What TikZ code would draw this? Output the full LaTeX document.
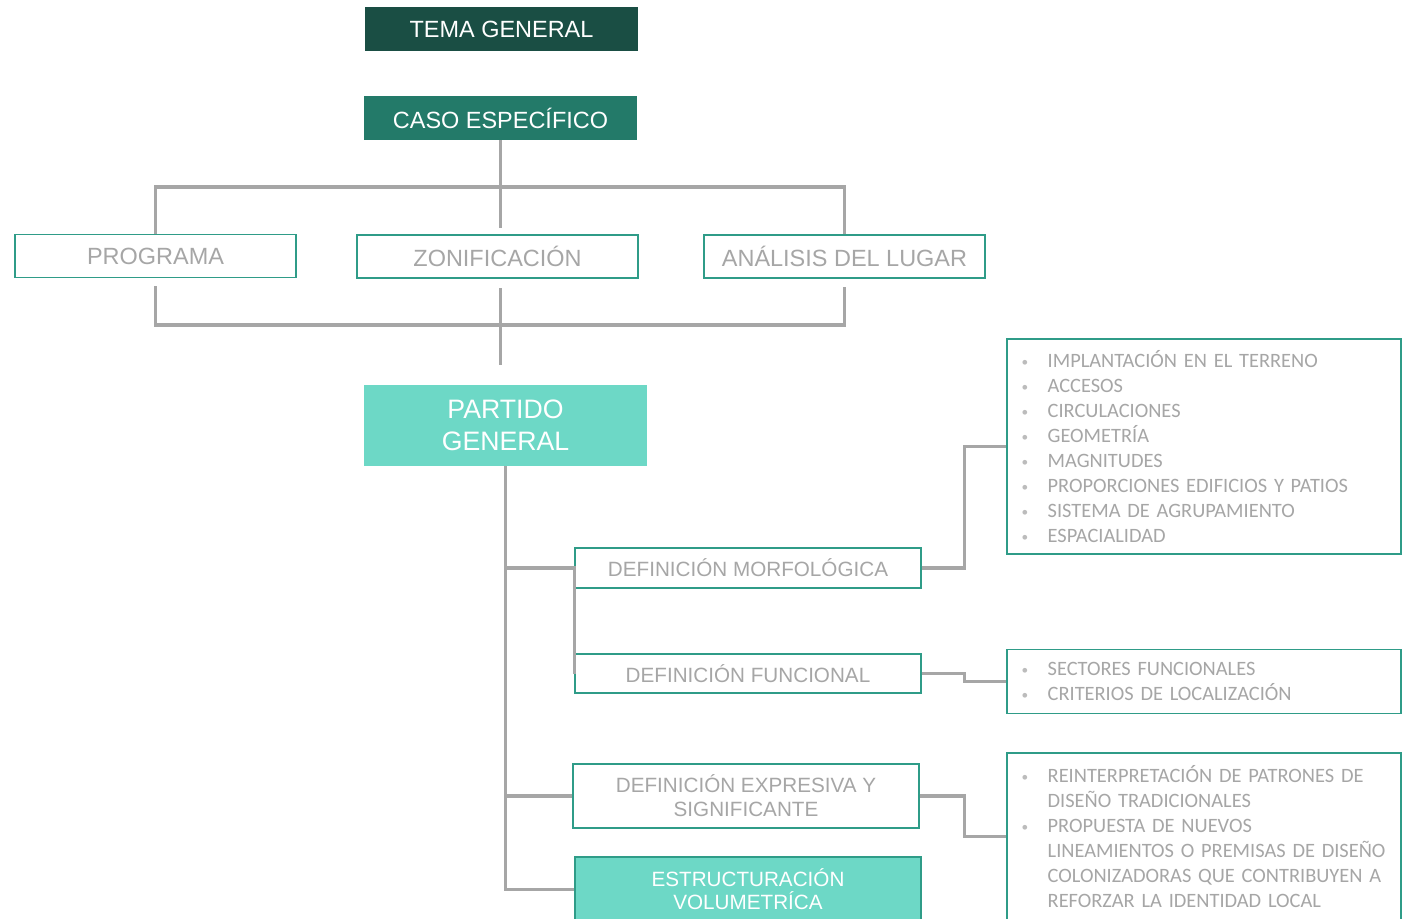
\documentclass[tikz,border=0pt]{standalone}
\usepackage{fontspec}
\setmainfont{Liberation Sans}
\newfontfamily\calib[WordSpace=0.8]{Carlito}
\usepackage{tikz}
\usetikzlibrary{positioning, calc}

\definecolor{temaverde}{HTML}{1A4E44}
\definecolor{casoverde}{HTML}{237A69}
\definecolor{claroverde}{HTML}{6DD8C6}
\definecolor{bordeverde}{HTML}{2F9C88}
\definecolor{gristexto}{HTML}{A6A6A6}
\definecolor{grislinea}{HTML}{A6A6A6}

\newcommand{\bul}{\makebox[19.5pt][l]{\raisebox{1pt}{\textcolor{gristexto!75}{\fontsize{10}{10}\selectfont\textbullet}}}}
\newcommand{\sig}{\hspace*{19.5pt}}

\begin{document}
\begin{tikzpicture}[x=0.75pt, y=-0.75pt,
    oscuro/.style={fill=temaverde, text=white, minimum width=204.75pt, minimum height=33pt, font=\fontsize{17.6}{21}\selectfont},
    medio/.style={fill=casoverde, text=white, minimum width=204.75pt, minimum height=33pt, font=\fontsize{17.6}{21}\selectfont},
    claro/.style={fill=claroverde, text=white, align=center},
    caja/.style={draw=bordeverde, line width=1.1pt, fill=white, text=gristexto, align=center},
    lista/.style={draw=bordeverde, line width=1.1pt, fill=white, text=gristexto, align=left, text width=273.5pt, inner xsep=11pt, font=\calib\fontsize{15.3}{18.75}\selectfont},
    linea/.style={draw=grislinea, line width=2.3pt}]
    \useasboundingbox (0,0) rectangle (1405,918);
    \clip (0,0) rectangle (1405,918);

    % encabezado
    \node[oscuro] (tema) at (501.5,29) {TEMA GENERAL};
    \node[medio] (caso) at (500.5,118) {CASO ESPEC\'IFICO};

    % segundo nivel
    \node[caja, minimum width=210.75pt, minimum height=32.25pt, font=\fontsize{17.6}{21}\selectfont] (prog) at (155.5,256) {PROGRAMA};
    \node[caja, minimum width=210.75pt, minimum height=32.25pt, font=\fontsize{17.6}{21}\selectfont] (zon) at (497.5,256.5) {ZONIFICACI\'ON};
    \node[caja, minimum width=210.75pt, minimum height=32.25pt, font=\fontsize{17.6}{21}\selectfont] (anal) at (844.5,256.5) {AN\'ALISIS DEL LUGAR};

    \node[claro, minimum width=212.25pt, minimum height=60.75pt, font=\fontsize{20}{24}\selectfont] (partido) at (505.5,425.5) {PARTIDO\\GENERAL};

    % definiciones
    \node[caja, minimum width=259.5pt, minimum height=30pt, font=\fontsize{15.5}{18}\selectfont] (morf) at (748,568) {DEFINICI\'ON MORFOL\'OGICA};
    \node[caja, minimum width=259.5pt, minimum height=29.25pt, font=\fontsize{15.5}{18}\selectfont] (func) at (748,673.5) {DEFINICI\'ON FUNCIONAL};
    \node[caja, minimum width=259.5pt, minimum height=48pt, font=\fontsize{15.5}{18}\selectfont] (expr) at (746,796) {DEFINICI\'ON EXPRESIVA Y\\SIGNIFICANTE};
    \node[claro, draw=bordeverde, line width=1.1pt, minimum width=259.5pt, minimum height=48.75pt, font=\fontsize{15.5}{17.3}\selectfont] (estr) at (748,889.5) {ESTRUCTURACI\'ON\\VOLUMETR\'ICA};

    % listas
    \node[lista, minimum width=295.5pt, minimum height=161.25pt] (lm) at (1204,446.5) {\bul IMPLANTACI\'ON EN EL TERRENO\\ \bul ACCESOS\\ \bul CIRCULACIONES\\ \bul GEOMETR\'IA\\ \bul MAGNITUDES\\ \bul PROPORCIONES EDIFICIOS Y PATIOS\\ \bul SISTEMA DE AGRUPAMIENTO\\ \bul ESPACIALIDAD};
    \node[lista, minimum width=295.5pt, minimum height=48pt] (lf) at (1204,681.5) {\bul SECTORES FUNCIONALES\\ \bul CRITERIOS DE LOCALIZACI\'ON};
    \node[lista, minimum width=295.5pt, minimum height=125.25pt] (le) at (1204,836.5) {\bul \mbox{REINTERPRETACI\'ON DE PATRONES DE}\\ \sig \mbox{DISE\~NO TRADICIONALES}\\ \bul \mbox{PROPUESTA DE NUEVOS}\\ \sig \mbox{LINEAMIENTOS O PREMISAS DE DISE\~NO}\\ \sig \mbox{COLONIZADORAS QUE CONTRIBUYEN A}\\ \sig \mbox{REFORZAR LA IDENTIDAD LOCAL}};

    % conectores
    \coordinate (arriba) at (500.5,187);
    \coordinate (abajo) at (500.5,325);
    \coordinate (finabajo) at (500.5,365);
    \draw[linea] (caso.south) -- ([yshift=5pt]caso.south |- zon.north);
    \draw[linea] (prog.north) |- (arriba) -| (anal.north);
    \draw[linea] ([yshift=-6pt]prog.south) |- (abajo) -| ([yshift=-6pt]anal.south);
    \draw[linea] ([yshift=-7pt]abajo |- zon.south) -- (finabajo);

    \draw[linea] (partido.south) |- (estr.west);
    \draw[linea] (partido.south |- morf.west) -- (morf.west);
    \draw[linea] (partido.south |- morf.west) -| (func.west);
    \draw[linea] (partido.south |- expr.west) -- (expr.west);

    \draw[linea] (morf.east) -- ++(43,0) |- (lm.west);
    \draw[linea] (func.east) -- ++(43,0) |- (lf.west);
    \draw[linea] (expr.east) -- ++(45,0) |- (le.west);
\end{tikzpicture}
\end{document}
